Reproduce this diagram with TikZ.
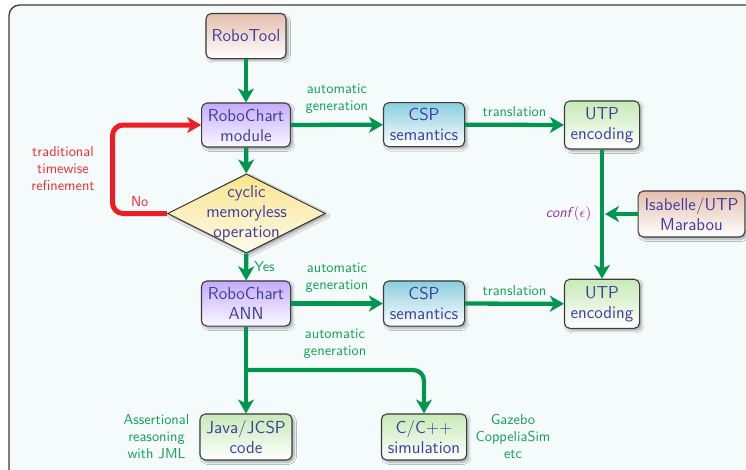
\documentclass[tikz,border=0pt]{standalone}
\usetikzlibrary{arrows.meta,shapes.geometric,shadows.blur}

\definecolor{ink}{RGB}{62,62,158}
\definecolor{edge}{RGB}{60,60,60}
\definecolor{panel}{RGB}{245,251,251}
\definecolor{flowgreen}{RGB}{0,150,80}
\definecolor{labgreen}{RGB}{20,158,88}
\definecolor{flowred}{RGB}{238,28,36}
\definecolor{labred}{RGB}{236,44,56}
\definecolor{confpurple}{RGB}{158,40,150}
\definecolor{peach}{RGB}{228,190,172}
\definecolor{lilac}{RGB}{196,172,250}
\definecolor{aqua}{RGB}{138,206,222}
\definecolor{mint}{RGB}{198,234,182}
\definecolor{butter}{RGB}{248,228,140}

\tikzset{
  box/.style={draw=edge, line width=0.8pt, rounded corners=4pt, align=center,
    inner sep=1pt, text=ink, font=\fontsize{13}{15}\selectfont\sffamily,
    blur shadow={shadow xshift=1.6pt, shadow yshift=-1.6pt, shadow opacity=35, shadow blur steps=6}},
  toolbox/.style={box, top color=peach, bottom color=white},
  chartbox/.style={box, top color=lilac, bottom color=white!92!lilac},
  cspbox/.style={box, top color=aqua, bottom color=white},
  codebox/.style={box, top color=mint, bottom color=white},
  lab/.style={text=labgreen, font=\fontsize{10.8}{12.8}\selectfont\sffamily, align=center, inner sep=2pt},
  redlab/.style={lab, text=labred},
  flow/.style={draw=flowgreen, line width=3.2pt, -{Stealth[length=10.5pt, width=12pt, inset=3pt]}},
  backflow/.style={draw=flowred, line width=3.75pt, rounded corners=8pt, -{Stealth[length=10.5pt, width=12pt, inset=3pt]}},
}

\begin{document}
\begin{tikzpicture}[x=0.75pt, y=-0.75pt]
  \path[use as bounding box] (0,0) rectangle (746,469);
  \begin{scope}
    \clip (0,0) rectangle (746,469);
    \draw[edge, line width=1pt, fill=panel, rounded corners=8pt] (9,5) rectangle (780,500);
  \end{scope}

  % boxes
  \node[toolbox, minimum width=60pt, minimum height=33.8pt] (tool) at (246,36) {RoboTool};
  \node[chartbox, minimum width=66.5pt, minimum height=33pt] (mod) at (246,125) {RoboChart\\module};
  \node[cspbox, minimum width=60.8pt, minimum height=33pt] (csp1) at (424,124.7) {CSP\\semantics};
  \node[codebox, minimum width=56.3pt, minimum height=36pt] (utp1) at (602,125) {UTP\\encoding};
  \node[toolbox, minimum width=80pt, minimum height=34.5pt] (isa) at (691.5,214) {Isabelle/UTP\\Marabou};

  \node[draw=edge, line width=0.8pt, diamond, minimum width=118.5pt, minimum height=59.5pt, inner sep=0pt,
        top color=butter, bottom color=white!85!butter,
        blur shadow={shadow xshift=1.6pt, shadow yshift=-1.6pt, shadow opacity=35, shadow blur steps=6}]
        (dec) at (246.5,213.5) {};
  \node[text=ink, font=\fontsize{13}{15}\selectfont\sffamily, align=center] (dectext) at (246.5,213)
        {cyclic\\memoryless\\operation};

  \node[chartbox, minimum width=66.8pt, minimum height=33.8pt] (ann) at (246,303.5) {RoboChart\\ANN};
  \node[cspbox, minimum width=60.8pt, minimum height=33.8pt] (csp2) at (424,303.5) {CSP\\semantics};
  \node[codebox, minimum width=56.3pt, minimum height=36.8pt] (utp2) at (602,303.8) {UTP\\encoding};
  \node[codebox, minimum width=69pt, minimum height=34.5pt] (java) at (246,437) {Java/JCSP\\code};
  \node[codebox, minimum width=63.8pt, minimum height=34.5pt] (cpp) at (424,437) {C/C++\\simulation};

  % side notes
  \node[redlab] (trad) at (63,169) {traditional\\timewise\\refinement};
  \node[lab] (jml) at (156.5,436.5) {Assertional\\reasoning\\with JML};
  \node[lab] (sims) at (513,436.5) {Gazebo\\CoppeliaSim\\etc};

  % connectors
  \draw[flow] (tool) -- (mod);
  \draw[flow] (mod) -- node[lab, above=5pt] {automatic\\generation} (csp1);
  \draw[flow] (csp1) -- node[lab, above=2.5pt] {translation} (utp1);
  \draw[flow] (utp1) -- node[left=4.5pt, inner sep=2pt, text=confpurple, font=\fontsize{10.8}{12.8}\selectfont]
        {\textsf{\textit{conf}}$(\epsilon)$} (utp2);
  \coordinate (join) at ([xshift=2.2pt]utp1.south |- isa.west);
  \draw[flow] (isa) -- (join);

  \draw[flow] (mod) -- (dec);
  \coordinate (turn) at (112.5,213.5);
  \draw[backflow] (dec.west) -- node[redlab, above=1pt] {No} (turn) |- (mod.west);

  \draw[flow] (dec) -- node[lab, right=2.5pt] {Yes} (ann);
  \draw[flow] (ann) -- node[lab, above=5pt] {automatic\\generation} (csp2);
  \draw[flow] (csp2) -- node[lab, above=2.5pt] {translation} (utp2);

  \draw[flow] (ann) -- (java);
  \coordinate (split) at (246,370);
  \draw[flow, rounded corners=8pt] (split) -| node[lab, pos=0.25, above=5pt] {automatic\\generation} (cpp);
\end{tikzpicture}
\end{document}
